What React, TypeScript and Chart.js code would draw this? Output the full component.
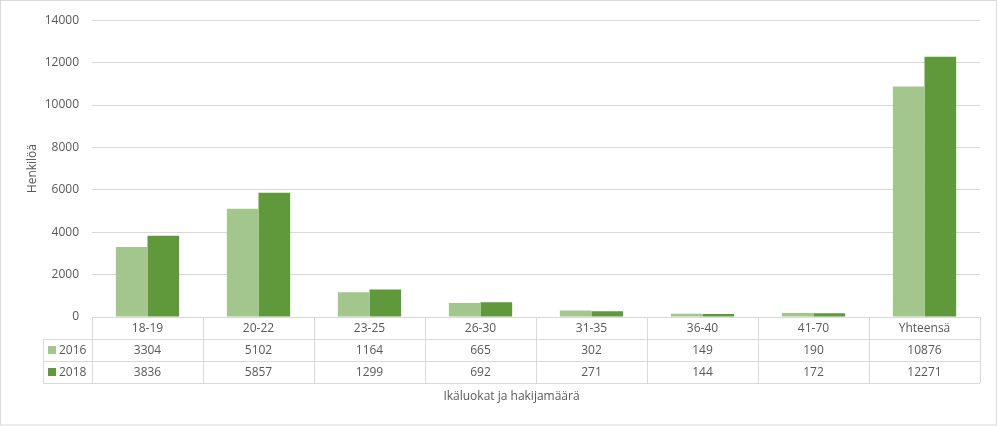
import React, { useEffect, useRef } from "react";
import { Chart, registerables } from "chart.js";

Chart.register(...registerables);

const categories = ["18-19", "20-22", "23-25", "26-30", "31-35", "36-40", "41-70", "Yhteensä"];
const series2016 = [3304, 5102, 1164, 665, 302, 149, 190, 10876];
const series2018 = [3836, 5857, 1299, 692, 271, 144, 172, 12271];
const seriesNames = ["2016", "2018"];
const seriesColors = ["#A3C68D", "#5F993B"];
const yTitle = "Henkilöä";
const xTitle = "Ikäluokat ja hakijamäärä";

const FONT = "'Open Sans', 'Noto Sans', sans-serif";
const TEXT = "#595959";
const LINE = "#d9d9d9";

const tablePlugin = {
  id: "dataTable",
  afterDraw(chart: any) {
    const ctx = chart.ctx as CanvasRenderingContext2D;
    const area = chart.chartArea;
    const x = chart.scales.x;
    const n = categories.length;
    const left = area.left;
    const right = area.right;
    const w = (right - left) / n;
    const rowH = 22;
    const y0 = area.bottom;
    const y1 = y0 + rowH;
    const y2 = y1 + rowH;
    const y3 = y2 + rowH;
    const legendLeft = 43;
    ctx.save();
    ctx.strokeStyle = LINE;
    ctx.lineWidth = 1;
    ctx.strokeRect(0.5, 0.5, 996, 424.5);

    ctx.beginPath();
    ctx.moveTo(left, Math.round(y0) + 0.5);
    ctx.lineTo(right, Math.round(y0) + 0.5);
    for (const yy of [y1, y2, y3]) {
      ctx.moveTo(legendLeft, Math.round(yy) + 0.5);
      ctx.lineTo(right, Math.round(yy) + 0.5);
    }
    ctx.moveTo(legendLeft + 0.5, y1);
    ctx.lineTo(legendLeft + 0.5, y3);
    for (let i = 0; i <= n; i++) {
      const xx = Math.round(left + i * w) + 0.5;
      ctx.moveTo(xx, y0);
      ctx.lineTo(xx, y3);
    }
    ctx.stroke();

    ctx.fillStyle = TEXT;
    ctx.font = `12px ${FONT}`;
    ctx.textAlign = "center";
    ctx.textBaseline = "middle";
    const rows = [series2016, series2018];
    for (let i = 0; i < n; i++) {
      const cx = x.getPixelForValue(i);
      ctx.fillText(categories[i], cx, y0 + rowH / 2 + 1);
      ctx.fillText(String(rows[0][i]), cx, y1 + rowH / 2 + 1);
      ctx.fillText(String(rows[1][i]), cx, y2 + rowH / 2 + 1);
    }
    ctx.textAlign = "left";
    [y1, y2].forEach((yy, r) => {
      ctx.fillStyle = seriesColors[r];
      ctx.fillRect(48, yy + 7, 8, 8);
      ctx.fillStyle = TEXT;
      ctx.fillText(seriesNames[r], 59, yy + rowH / 2 + 1);
    });

    ctx.textAlign = "center";
    ctx.font = `12px ${FONT}`;
    ctx.fillText(xTitle, (legendLeft + right) / 2, 397);

    ctx.translate(33, (area.top + area.bottom) / 2);
    ctx.rotate(-Math.PI / 2);
    ctx.fillText(yTitle, 0, 0);
    ctx.restore();
  },
};

export default function App() {
  const ref = useRef<HTMLCanvasElement>(null);
  useEffect(() => {
    if (!ref.current) return;
    const chart = new Chart(ref.current, {
      type: "bar",
      data: {
        labels: categories,
        datasets: [
          {
            label: seriesNames[0],
            data: series2016,
            backgroundColor: seriesColors[0],
            categoryPercentage: 0.57,
            barPercentage: 1,
          },
          {
            label: seriesNames[1],
            data: series2018,
            backgroundColor: seriesColors[1],
            categoryPercentage: 0.57,
            barPercentage: 1,
          },
        ],
      },
      options: {
        animation: false,
        responsive: false,
        devicePixelRatio: 1,
        layout: { padding: { left: 0, top: 18, right: 18, bottom: 109 } },
        plugins: {
          legend: { display: false },
          tooltip: { enabled: false },
          title: { display: false },
        },
        scales: {
          x: { display: false },
          y: {
            min: 0,
            max: 14000,
            afterFit(scale: any) {
              scale.width = 92;
            },
            ticks: {
              stepSize: 2000,
              color: TEXT,
              padding: 13,
              font: { family: FONT, size: 12 },
              callback: (v: any) => String(v),
            },
            grid: { color: LINE, drawTicks: false },
            border: { display: false },
          },
        },
      },
      plugins: [tablePlugin],
    });
    return () => chart.destroy();
  }, []);
  return (
    <div style={{ position: "fixed", left: 0, top: 0, width: 998, height: 426, background: "#fff" }}>
      <canvas ref={ref} width={998} height={426} style={{ display: "block" }} />
    </div>
  );
}
